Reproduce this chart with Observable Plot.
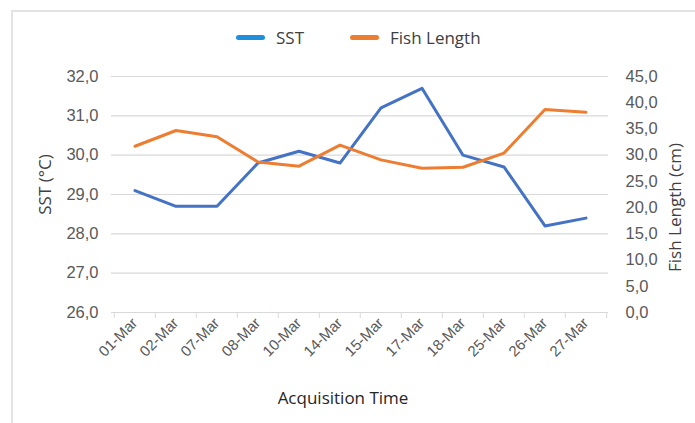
<!DOCTYPE html>
<html>
<head>
<meta charset="utf-8">
<script src="https://cdn.jsdelivr.net/npm/d3@7"></script>
<script src="https://cdn.jsdelivr.net/npm/@observablehq/plot@0.6"></script>
<style>
  html, body { margin: 0; padding: 0; background: #fff; }
  #wrap { position: relative; width: 695px; height: 423px; overflow: hidden; font-family: "Liberation Sans", Arial, sans-serif; }
  #frame { position: absolute; left: 11px; top: 10px; width: 700px; height: 430px; border-top: 2px solid #e3e3e3; border-left: 2px solid #e3e3e3; box-sizing: border-box; }
  #legend { position: absolute; top: 0; left: 0; width: 695px; height: 55px; }
  .item { position: absolute; top: 26px; display: flex; align-items: center; font-family: "Open Sans", sans-serif; font-size: 17px; color: #404040; }
  .sw { display: inline-block; width: 29px; height: 5px; border-radius: 3px; margin-right: 11px; }
  #chart { position: absolute; top: 55px; left: 0; }
</style>
</head>
<body>
<div id="wrap">
  <div id="frame"></div>
  <div id="legend">
    <div class="item" style="left:236px"><span class="sw" style="background:#1f8fdc"></span>SST</div>
    <div class="item" style="left:350px"><span class="sw" style="background:#ed7d31"></span>Fish Length</div>
  </div>
  <div id="chart"></div>
</div>
<script>
const dates = ["01-Mar","02-Mar","07-Mar","08-Mar","10-Mar","14-Mar","15-Mar","17-Mar","18-Mar","25-Mar","26-Mar","27-Mar"];
const sst   = [29.1, 28.7, 28.7, 29.8, 30.1, 29.8, 31.2, 31.7, 30.0, 29.7, 28.2, 28.4];
const fishLength = [31.7, 34.7, 33.5, 28.7, 27.9, 31.9, 29.1, 27.5, 27.7, 30.4, 38.7, 38.2];
const sstTicks  = [26, 27, 28, 29, 30, 31, 32];
const fishTicks = [0, 5, 10, 15, 20, 25, 30, 35, 40, 45];

const rows = dates.map((d, i) => ({date: d, sst: sst[i], fish: fishLength[i]}));
// secondary axis: map fish length (0–45) onto the SST domain (26–32)
const y2 = d3.scaleLinear([0, 45], [26, 32]);
const fmt = v => (Math.round(v * 10) / 10).toFixed(1).replace(".", ",");

const W = 695, H = 368, mL = 111, mR = 87;
const bw = (W - mL - mR) / dates.length;
const tickFont = {fontSize: 16.5, fill: "#595959", fontFamily: "Liberation Sans, Arial, sans-serif"};
const titleFont = {fontSize: 17, fill: "#404040", fontFamily: "Open Sans, sans-serif", textAnchor: "middle", lineAnchor: "middle"};

const plot = Plot.plot({
  width: W, height: H,
  marginTop: 21, marginBottom: 111, marginLeft: mL, marginRight: mR,
  style: {background: "transparent", fontFamily: "Liberation Sans, Arial, sans-serif", overflow: "visible"},
  x: {type: "band", domain: dates, padding: 0, label: null},
  y: {domain: [26, 32], label: null},
  marks: [
    Plot.gridY(sstTicks, {stroke: "#d9d9d9", strokeOpacity: 1, strokeWidth: 1.2}),
    // boundary ticks under the category axis
    Plot.axisX({tickSize: 6, tickFormat: () => "", dx: -bw / 2, stroke: "#d9d9d9", strokeOpacity: 1, label: null}),
    Plot.axisX([dates[dates.length - 1]], {tickSize: 6, tickFormat: () => "", dx: bw / 2, stroke: "#d9d9d9", strokeOpacity: 1, label: null}),
    Plot.axisX({tickSize: 0, tickRotate: -45, tickPadding: 8, fontSize: 15, fill: "#595959", label: null}),
    Plot.axisY(sstTicks, {anchor: "left", tickSize: 0, tickPadding: 13, tickFormat: fmt, ...tickFont, label: null}),
    Plot.axisY(fishTicks.map(y2), {anchor: "right", tickSize: 0, tickPadding: 17, tickFormat: v => fmt(y2.invert(v)), ...tickFont, label: null}),
    Plot.line(rows, {x: "date", y: "sst", stroke: "#4472c4", strokeWidth: 3}),
    Plot.line(rows, {x: "date", y: d => y2(d.fish), stroke: "#ed7d31", strokeWidth: 3}),
    Plot.text(["SST (°C)"], {frameAnchor: "left", rotate: -90, dx: -66, dy: -10, ...titleFont}),
    Plot.text(["Fish Length (cm)"], {frameAnchor: "right", rotate: -90, dx: 67, dy: 13, ...titleFont}),
    Plot.text(["Acquisition Time"], {frameAnchor: "bottom", dx: -17, dy: 86, ...titleFont, fill: "#262626"})
  ]
});
document.getElementById("chart").appendChild(plot);
</script>
</body>
</html>
